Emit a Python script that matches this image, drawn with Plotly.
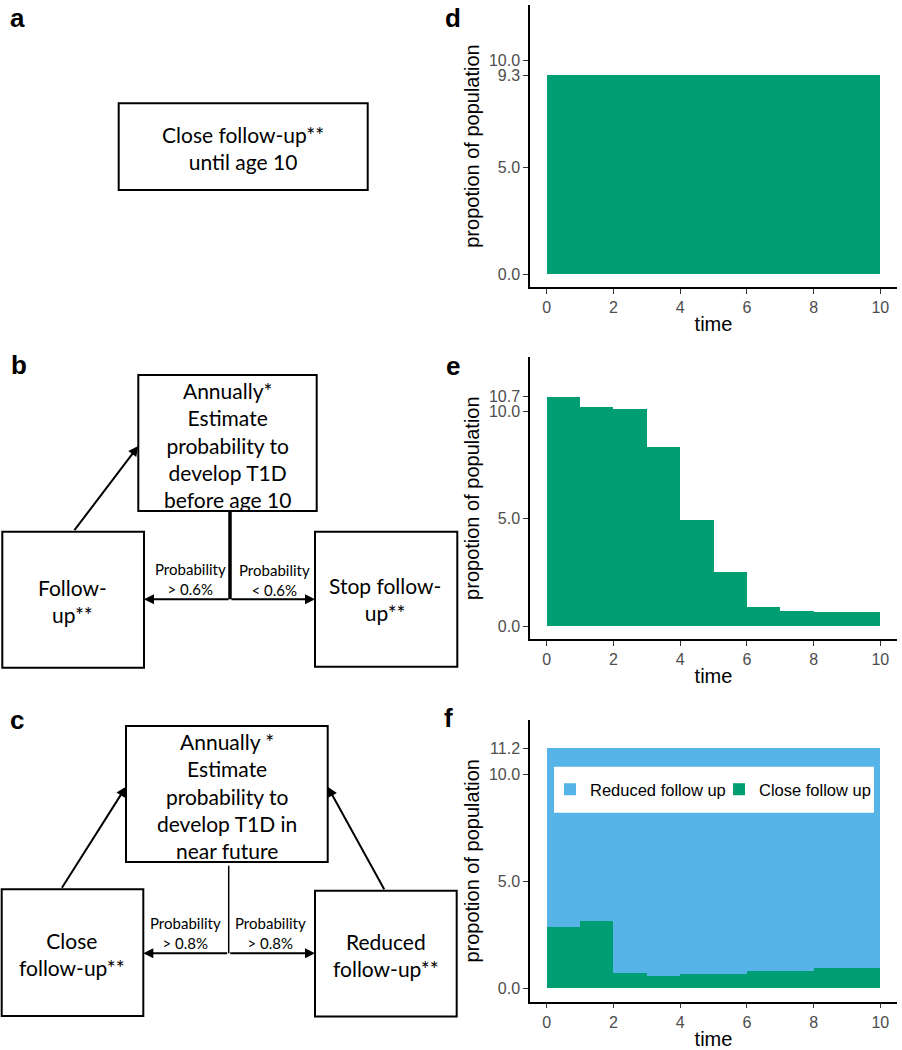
import plotly.graph_objects as go

W, H = 902, 1050

# ---------------- data ----------------
time_start = [0, 1, 2, 3, 4, 5, 6, 7, 8, 9]          # yearly intervals (start of year)
x_ticks = [0, 2, 4, 6, 8, 10]

# d: strategy a - everybody in close follow-up
d_close = [9.3, 9.3, 9.3, 9.3, 9.3, 9.3, 9.3, 9.3, 9.3, 9.3]
# e: strategy b - close follow-up until probability drops
e_close = [10.7, 10.22, 10.14, 8.35, 4.96, 2.52, 0.89, 0.69, 0.65, 0.65]
# f: strategy c - close vs reduced follow-up
f_close = [2.87, 3.15, 0.73, 0.59, 0.68, 0.68, 0.82, 0.82, 0.93, 0.93]
f_reduced = [8.33, 8.05, 10.47, 10.61, 10.52, 10.52, 10.38, 10.38, 10.27, 10.27]

d_yticks = [0.0, 5.0, 9.3, 10.0]
e_yticks = [0.0, 5.0, 10.0, 10.7]
f_yticks = [0.0, 5.0, 10.0, 11.2]

GREEN = "#009E73"
BLUE = "#56B4E9"

x_mid = [t + 0.5 for t in time_start]

# ---------------- helpers ----------------
def px(x):
    return x / W


def py(y):
    return 1 - y / H


fig = go.Figure()

fig.add_trace(go.Bar(x=x_mid, y=d_close, width=1, marker=dict(color=GREEN, line=dict(width=0)),
                     name="Close follow up", showlegend=False, xaxis="x", yaxis="y"))
fig.add_trace(go.Bar(x=x_mid, y=e_close, width=1, marker=dict(color=GREEN, line=dict(width=0)),
                     name="Close follow up", showlegend=False, xaxis="x2", yaxis="y2"))
fig.add_trace(go.Bar(x=x_mid, y=f_close, width=1, marker=dict(color=GREEN, line=dict(width=0)),
                     name="Close follow up", showlegend=True, legend="legend2",
                     xaxis="x3", yaxis="y3"))
fig.add_trace(go.Bar(x=x_mid, y=f_reduced, width=1, marker=dict(color=BLUE, line=dict(width=0)),
                     name="Reduced follow up", showlegend=True, legend="legend",
                     xaxis="x3", yaxis="y3"))

TICKFONT = dict(family="Liberation Sans, Arial, sans-serif", size=16, color="#4D4D4D")
TITLEFONT = dict(family="Liberation Sans, Arial, sans-serif", size=20, color="black")
LEGFONT = dict(family="Liberation Sans, Arial, sans-serif", size=16.5, color="black")


def xax(anchor):
    return dict(domain=[px(530), px(897)], range=[-0.5, 10.5], anchor=anchor,
                showline=True, linecolor="black", linewidth=1.5, mirror=False,
                ticks="outside", ticklen=5, tickwidth=1, tickcolor="#333333",
                tickvals=x_ticks, tickfont=TICKFONT, showgrid=False, zeroline=False,
                title=dict(text="time", font=TITLEFONT, standoff=2))


def yax(anchor, top, bottom, rng, ticks):
    return dict(domain=[py(bottom), py(top)], range=rng, anchor=anchor,
                showline=True, linecolor="black", linewidth=1.5, mirror=False,
                ticks="outside", ticklen=5, tickwidth=1, tickcolor="#333333",
                tickvals=ticks, ticktext=[f"{t:.1f}" for t in ticks],
                tickfont=TICKFONT, showgrid=False, zeroline=False,
                title=dict(text="propotion of population", font=TITLEFONT, standoff=4))


fig.update_layout(
    width=W, height=H,
    margin=dict(l=0, r=0, t=0, b=0),
    paper_bgcolor="white", plot_bgcolor="white",
    barmode="stack", bargap=0,
    xaxis=xax("y"), yaxis=yax("x", 5, 287, [-0.59, 12.58], d_yticks),
    xaxis2=xax("y2"), yaxis2=yax("x2", 357, 639.3, [-0.62, 12.55], e_yticks),
    xaxis3=xax("y3"), yaxis3=yax("x3", 720, 1001.7, [-0.625, 12.52], f_yticks),
    legend=dict(orientation="h", x=px(550), xanchor="left", y=py(789.5), yanchor="middle",
                bgcolor="rgba(0,0,0,0)", font=LEGFONT),
    legend2=dict(orientation="h", x=px(719), xanchor="left", y=py(789.5), yanchor="middle",
                 bgcolor="rgba(0,0,0,0)", font=LEGFONT),
    showlegend=True,
)

shapes = []
annotations = []

# legend background box inside panel f
shapes.append(dict(type="rect", xref="paper", yref="paper", x0=px(554), x1=px(874),
                   y0=py(812.7), y1=py(766.7), fillcolor="white", line=dict(width=0), layer="above"))


def box(x0, y0, x1, y1, w=2):
    shapes.append(dict(type="rect", xref="paper", yref="paper", x0=px(x0), x1=px(x1),
                       y0=py(y1), y1=py(y0), line=dict(color="black", width=w),
                       fillcolor="rgba(0,0,0,0)"))


def line(x0, y0, x1, y1, w=2):
    shapes.append(dict(type="line", xref="paper", yref="paper", x0=px(x0), x1=px(x1),
                       y0=py(y0), y1=py(y1), line=dict(color="black", width=w)))


def arrow(tx, ty, hx, hy, w=2):
    annotations.append(dict(xref="paper", yref="paper", x=px(hx), y=py(hy), ax=tx - hx, ay=ty - hy,
                            axref="pixel", ayref="pixel", text="", showarrow=True, arrowhead=2,
                            arrowsize=1, arrowwidth=w, arrowcolor="black", standoff=0, startstandoff=0))


FLOW = "Lato, Carlito, Calibri, sans-serif"


def text(x, y, s, size=21):
    annotations.append(dict(xref="paper", yref="paper", x=px(x), y=py(y), text=s, showarrow=False,
                            xanchor="center", yanchor="middle", align="center",
                            font=dict(family=FLOW, size=size, color="black")))


def label(x, y, s):
    annotations.append(dict(xref="paper", yref="paper", x=px(x), y=py(y), text=f"<b>{s}</b>",
                            showarrow=False, xanchor="center", yanchor="middle",
                            font=dict(family="Liberation Sans, Arial, sans-serif", size=26, color="black")))


# panel labels
label(17, 18, "a")
label(19, 365, "b")
label(17, 720, "c")
label(453, 18, "d")
label(453, 366, "e")
label(448, 718, "f")

# ---- a ----
box(118.7, 103.3, 367.7, 190)
text(243, 148, "Close follow-up**<br>until age 10")

# ---- b ----
box(138.3, 375, 316.7, 511)
text(227.5, 445, "Annually*<br>Estimate<br>probability to<br>develop T1D<br>before age 10")
box(2.3, 531.7, 144, 667.7)
text(72, 601, "Follow-<br>up**")
box(315, 531.7, 457.3, 666.7)
text(385, 599, "Stop follow-<br>up**")
line(230, 511, 230, 599.3, w=3.5)
arrow(230, 599.3, 144, 599.3)
arrow(230, 599.3, 315, 599.3)
arrow(73.3, 531.7, 138.3, 446)
text(190, 579, "Probability<br>> 0.6%", size=15)
text(274, 580, "Probability<br>< 0.6%", size=15)

# ---- c ----
box(126, 726, 327.7, 862)
text(227, 796, "Annually *<br>Estimate<br>probability to<br>develop T1D in<br>near future")
box(1.7, 889.3, 143.3, 1016)
text(72, 953.5, "Close<br>follow-up**")
box(315, 890.7, 456.7, 1016.5)
text(386, 955, "Reduced<br>follow-up**")
line(228.7, 865.7, 228.7, 953.3, w=1.5)
arrow(228.7, 953.3, 143.3, 953.3)
arrow(228.7, 953.3, 315, 953.3)
arrow(61, 889.3, 126, 786.7)
arrow(385, 890.7, 327.7, 786.7)
text(185, 933, "Probability<br>> 0.8%", size=15)
text(270, 933, "Probability<br>> 0.8%", size=15)

fig.update_layout(shapes=shapes, annotations=annotations)

# remove the default 8px page margin so the 902x1050 figure fills the window exactly
fig.write_html("out.html",
               config={"displayModeBar": False},
               post_script="document.body.style.margin='0px';document.body.style.overflow='hidden';")
